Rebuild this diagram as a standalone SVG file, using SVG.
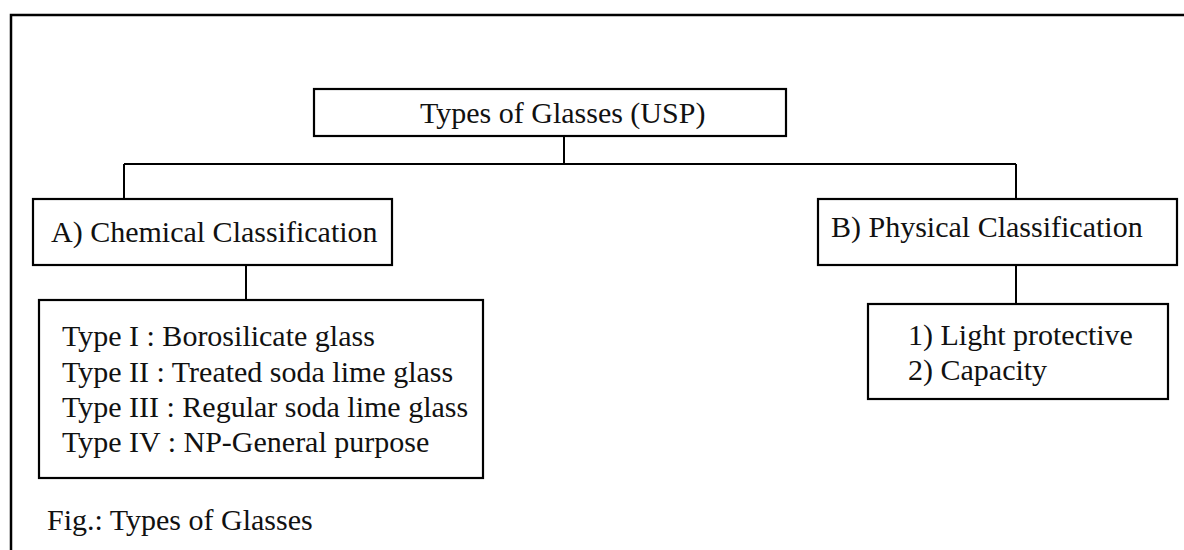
<svg xmlns="http://www.w3.org/2000/svg" width="1184" height="550" viewBox="0 0 1184 550">
<style>
.box{fill:#fff;stroke:#000;stroke-width:2.2}
.frame{fill:none;stroke:#000;stroke-width:2.5}
.con{fill:none;stroke:#000;stroke-width:2}
.t{font-family:'Liberation Serif','DejaVu Serif',serif;font-size:30px;fill:#111}
</style>
<rect width="1184" height="550" fill="#fff"/>
<path class="frame" d="M11 560 V15 H1200"/>
<g id="connectors">
<path class="con" d="M564 137 V164"/>
<path class="con" d="M124 164 H1016"/>
<path class="con" d="M124 164 V199"/>
<path class="con" d="M1016 164 V199"/>
<path class="con" d="M246 265 V300"/>
<path class="con" d="M1016 265 V304"/>
</g>
<g id="root">
<rect class="box" x="314" y="89" width="472" height="47"/>
<text class="t" x="420" y="123">Types of Glasses (USP)</text>
</g>
<g id="chemical">
<rect class="box" x="33" y="199" width="359" height="66"/>
<text class="t" x="51" y="242">A) Chemical Classification</text>
</g>
<g id="physical">
<rect class="box" x="818" y="199" width="359" height="66"/>
<text class="t" x="831" y="237">B) Physical Classification</text>
</g>
<g id="chemical-types">
<rect class="box" x="39" y="300" width="444" height="178"/>
<text class="t" x="62" y="346">Type I : Borosilicate glass</text>
<text class="t" x="62" y="382">Type II : Treated soda lime glass</text>
<text class="t" x="62" y="417">Type III : Regular soda lime glass</text>
<text class="t" x="62" y="452">Type IV : NP-General purpose</text>
</g>
<g id="physical-types">
<rect class="box" x="868" y="304" width="300" height="95"/>
<text class="t" x="908" y="345">1) Light protective</text>
<text class="t" x="908" y="380">2) Capacity</text>
</g>
<g id="caption">
<text class="t" x="47" y="530">Fig.: Types of Glasses</text>
</g>
</svg>
